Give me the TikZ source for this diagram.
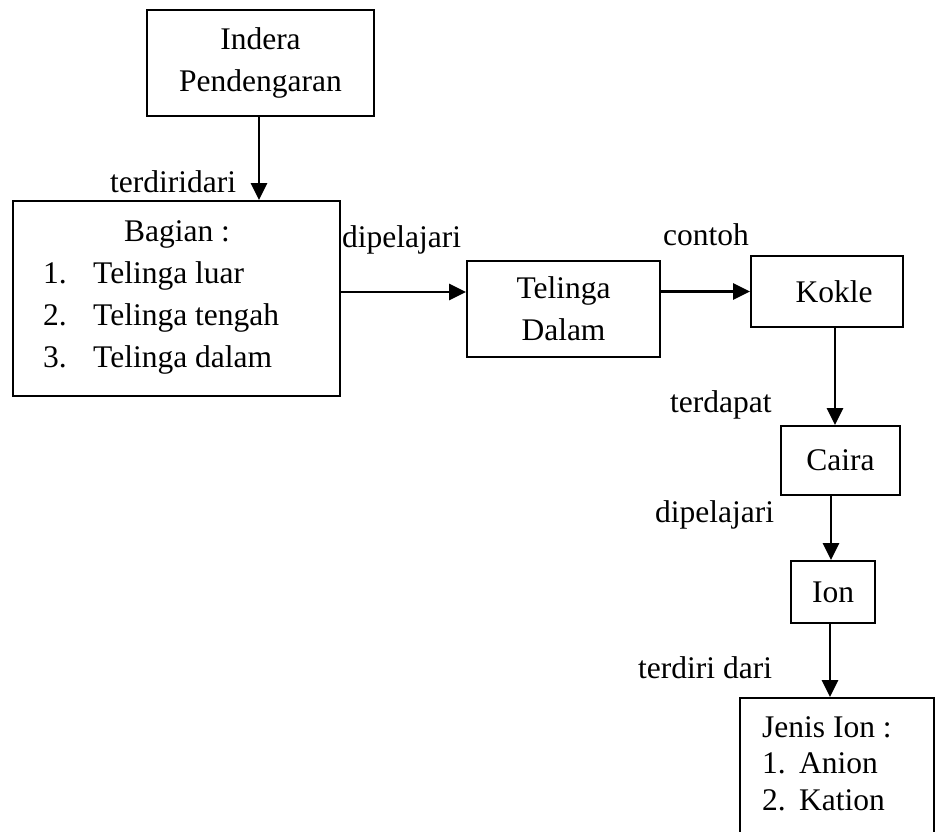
\documentclass[tikz,border=0pt]{standalone}
\usepackage{fontspec}
\setmainfont{Liberation Serif}
\usetikzlibrary{arrows.meta}
\begin{document}
\begin{tikzpicture}[x=1pt,y=-1pt,
  box/.style={draw,line width=2pt,inner sep=0pt,align=center,font=\fontsize{31.5}{42}\selectfont},
  lbl/.style={anchor=base west,inner sep=0pt,font=\fontsize{31.5}{42}\selectfont},
  arr/.style={line width=2.7pt,-{Triangle[length=17pt,width=16pt]}}]
\useasboundingbox (0,0) rectangle (940,831);
\clip (0,0) rectangle (940,831);
% boxes
\node[box,minimum width=227,minimum height=106] (indera) at (260.5,63) {Indera\\Pendengaran};
\node[box,minimum width=327,minimum height=195] (bagian) at (176.5,298.5) {};
\node[box,minimum width=193,minimum height=96] (td) at (563.5,309) {Telinga\\Dalam};
\node[box,minimum width=152,minimum height=71] (kokle) at (827,291.5) {\hspace*{14pt}Kokle};
\node[box,minimum width=119,minimum height=69] (caira) at (840.5,460.5) {Caira};
\node[box,minimum width=84,minimum height=62] (ion) at (833,592) {Ion};
\node[box,minimum width=194,minimum height=170,anchor=north west] (jenis) at (739,697) {};
% texts inside list boxes
\node[lbl,anchor=base] (bt) at (177,241) {Bagian :};
\node[lbl] (n1) at (43,283) {1.};
\node[lbl] (t1) at (93,283) {Telinga luar};
\node[lbl] (n2) at (43,325) {2.};
\node[lbl] (t2) at (93,325) {Telinga tengah};
\node[lbl] (n3) at (43,367) {3.};
\node[lbl] (t3) at (93,367) {Telinga dalam};
\node[lbl] (jt) at (762,737) {Jenis Ion :};
\node[lbl] (j1) at (762,773) {1.};
\node[lbl] (ja) at (799,773) {Anion};
\node[lbl] (j2) at (762,810) {2.};
\node[lbl] (jk) at (799,810) {Kation};
% connector labels
\node[lbl] (l1) at (110,192) {terdiridari};
\node[lbl] (l2) at (342,247) {dipelajari};
\node[lbl] (l3) at (663,245) {contoh};
\node[lbl] (l4) at (670,412) {terdapat};
\node[lbl] (l5) at (655,522) {dipelajari};
\node[lbl] (l6) at (638,678) {terdiri dari};
% connectors
\draw[arr] ([xshift=-1.5pt]indera.south) -- ([xshift=-1.5pt]indera.south |- bagian.north);
\draw[arr] ([yshift=6.5pt]bagian.east) -- ([yshift=6.5pt]bagian.east -| td.west);
\draw[arr] (td.east |- kokle.west) -- (kokle.west);
\draw[arr] ([xshift=8pt]kokle.south) -- ([xshift=8pt]kokle.south |- caira.north);
\draw[arr] (caira.south -| 831,0) -- (ion.north -| 831,0);
\draw[arr] ([xshift=-3pt]ion.south) -- ([xshift=-3pt]ion.south |- jenis.north);
\end{tikzpicture}
\end{document}
